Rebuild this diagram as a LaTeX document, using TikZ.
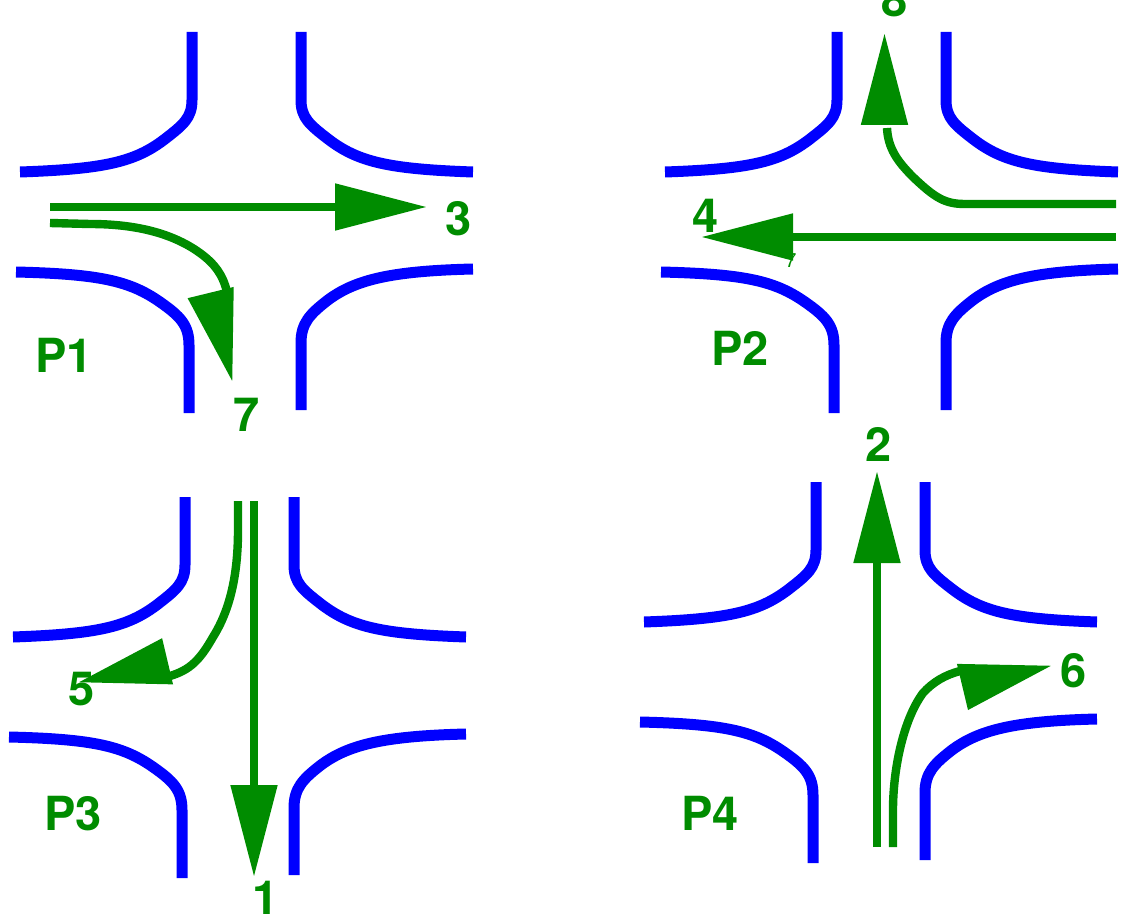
\documentclass[tikz,border=0pt]{standalone}
\usepackage{fontspec}
\usepackage{xcolor}
\setmainfont{TeX Gyre Heros}
\usetikzlibrary{arrows.meta}
\definecolor{lanegreen}{RGB}{0,140,0}

\begin{document}
\begin{tikzpicture}[
  x=1pt, y=-1pt,
  kerb/.style={draw=blue, line width=11pt},
  lane/.style={draw=lanegreen, line width=8.4pt},
  arr/.style={lane, -{Triangle[length=92pt,width=45pt,sep=-2pt]}},
  lbl/.style={anchor=base, inner sep=0pt, text=lanegreen, font=\fontsize{47}{47}\selectfont\bfseries},
  crossing/.pic={
    \draw[kerb] (192,32) -- (192,100) .. controls (192,118) and (183,125) .. (165,139)
      .. controls (135,162) and (105,169) .. (20,172);
    \draw[kerb] (301,32) -- (301,100) .. controls (301,118) and (310,125) .. (328,139)
      .. controls (358,162) and (388,169) .. (473,172);
    \draw[kerb] (16,272) .. controls (100,274) and (130,281) .. (160,302)
      .. controls (180,316) and (189,325) .. (189,345) -- (189,413);
    \draw[kerb] (473,269) .. controls (390,271) and (355,280) .. (328,300)
      .. controls (310,314) and (301,323) .. (301,343) -- (301,410);
  }]
  \useasboundingbox (0,0) rectangle (1128,915);
  % --- kerbs ---
  \pic (cp1) at (0,0)      {crossing};
  \pic (cp2) at (645,0)    {crossing};
  \pic (cp3) at (-7,465)   {crossing};
  \pic (cp4) at (624,450)  {crossing};
  % --- labels ---
  \node[lbl] (p1) at (64,372)  {P1};
  \node[lbl] (p2) at (740,365) {P2};
  \node[lbl] (p3) at (73,830)  {P3};
  \node[lbl] (p4) at (710,830) {P4};
  \node[lbl] (n1) at (266,914) {1};
  \node[lbl] (n2) at (879,461) {2};
  \node[lbl] (n3) at (459,235) {3};
  \node[lbl] (n4) at (706,233) {4};
  \node[lbl] (n5) at (82,705)  {5};
  \node[lbl] (n6) at (1074,687) {6};
  \node[lbl] (n7) at (247,431) {7};
  \node[lbl] (n8) at (895,17)  {8};
  \node[lbl, font=\fontsize{20}{20}\selectfont] (n7b) at (791,267) {7};
  % --- lane ends ---
  \coordinate (a3) at (50,207);    \coordinate (t3) at (425,207);
  \coordinate (a7) at (50,223);    \coordinate (e7) at (227,292);
  \coordinate (b7) at (211.5,296); \coordinate (t7) at (232,380);
  \coordinate (a8) at (1116,204);  \coordinate (e8) at (887,128);
  \coordinate (b8) at (884.5,120); \coordinate (t8) at (884.5,35);
  \coordinate (a4) at (1116,237);  \coordinate (t4) at (703,237);
  \coordinate (a1) at (254,501);   \coordinate (t1) at (254,875);
  \coordinate (a5) at (238,501);   \coordinate (e5) at (170,676);
  \coordinate (b5) at (164.5,662); \coordinate (t5) at (80,682);
  \coordinate (a2) at (877,847);   \coordinate (t2) at (877,473);
  \coordinate (a6) at (893,847);   \coordinate (e6) at (960,671);
  \coordinate (b6) at (966.5,686); \coordinate (t6) at (1050,666);
  % --- straight lanes ---
  \draw[arr] (a3) -- (t3);
  \draw[arr] (a4) -- (t4);
  \draw[arr] (a1) -- (t1);
  \draw[arr] (a2) -- (t2);
  % --- turning lanes ---
  \draw[lane] (a7) -- (90,224) .. controls (140,224) and (175,235) .. (200,253)
    .. controls (215,264) and (223,275) .. (e7);
  \draw[arr] (b7) -- (t7);
  \draw[lane] (a8) -- (965,204) .. controls (945,204) and (935,198) .. (913,177)
    .. controls (897,161) and (888,148) .. (e8);
  \draw[arr] (b8) -- (t8);
  \draw[lane] (a5) -- (238,530) .. controls (238,575) and (230,610) .. (213,637)
    .. controls (200,660) and (190,670) .. (e5);
  \draw[arr] (b5) -- (t5);
  \draw[lane] (a6) -- (893,810) .. controls (893,770) and (903,720) .. (923,693)
    .. controls (933,682) and (945,675) .. (e6);
  \draw[arr] (b6) -- (t6);
\end{tikzpicture}
\end{document}
